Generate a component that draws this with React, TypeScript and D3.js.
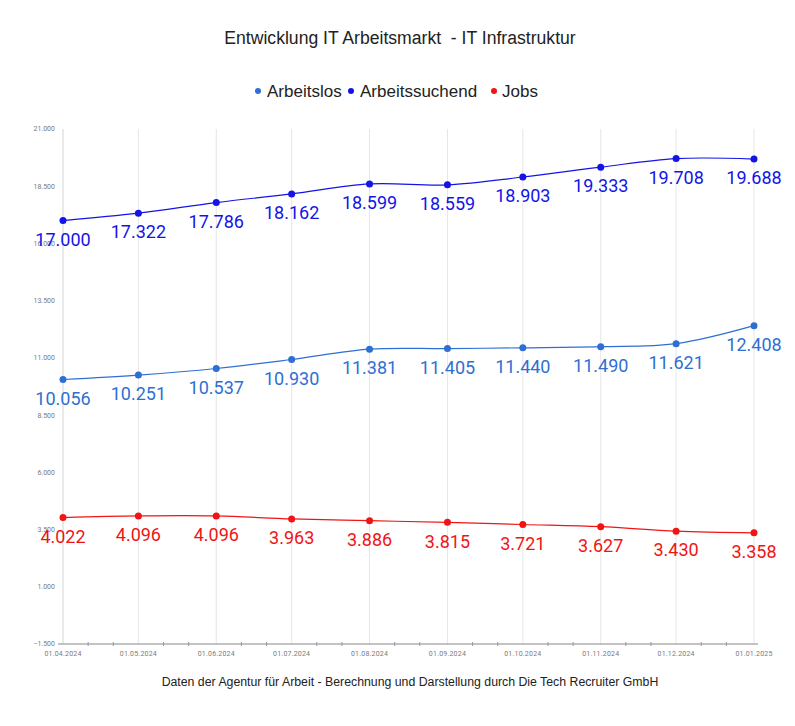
import React from "react";
import * as d3 from "d3";

const months = ["2024-04-01","2024-05-01","2024-06-01","2024-07-01","2024-08-01","2024-09-01","2024-10-01","2024-11-01","2024-12-01","2025-01-01"];
const arbeitslos = [10056, 10251, 10537, 10930, 11381, 11405, 11440, 11490, 11621, 12408];
const arbeitssuchend = [17000, 17322, 17786, 18162, 18599, 18559, 18903, 19333, 19708, 19688];
const jobs = [4022, 4096, 4096, 3963, 3886, 3815, 3721, 3627, 3430, 3358];
const yTicks = [-1500, 1000, 3500, 6000, 8500, 11000, 13500, 16000, 18500, 21000];
const seriesNames = ["Arbeitslos", "Arbeitssuchend", "Jobs"];
const seriesColors = ["#2f6fd2", "#1414e6", "#f01414"];
const title = "Entwicklung IT Arbeitsmarkt  - IT Infrastruktur";
const footer = "Daten der Agentur für Arbeit - Berechnung und Darstellung durch Die Tech Recruiter GmbH";

const W = 795, H = 726;

export default function App() {
  const parse = d3.timeParse("%Y-%m-%d");
  const dates = months.map((m) => parse(m) as Date);
  const x = d3.scaleTime().domain([dates[0], dates[dates.length - 1]]).range([63, 754]);
  const y = d3.scaleLinear().domain([-1500, 21000]).range([644, 129]);
  const de = d3.formatLocale({ decimal: ",", thousands: ".", grouping: [3], currency: ["", "€"] });
  const fmt = de.format(",d");
  const dfmt = d3.timeFormat("%d.%m.%Y");

  // minor ticks at 11th and 21st of each month
  const minor: Date[] = [];
  d3.timeMonth.range(dates[0], dates[dates.length - 1]).forEach((m) => {
    [11, 21].forEach((d) => minor.push(new Date(m.getFullYear(), m.getMonth(), d)));
  });

  const allSeries = [arbeitslos, arbeitssuchend, jobs];
  const line = d3.line<number>()
    .x((_, i) => x(dates[i]))
    .y((v) => y(v))
    .curve(d3.curveCatmullRom.alpha(0.5));

  const axisY = y(-1500);
  const legendItems = [
    { dot: 258, text: 267 },
    { dot: 351, text: 360 },
    { dot: 494, text: 502 },
  ];

  return (
    <svg width={W} height={H} style={{ position: "absolute", left: 0, top: 0, background: "#fff" }}>
      <rect x={0} y={0} width={W} height={H} fill="#fff" />
      <text x={400} y={44} textAnchor="middle" fontFamily="Liberation Sans, Arial, sans-serif" fontSize={17.6} fill="#222" style={{ whiteSpace: "pre" }}>{title}</text>
      {seriesNames.map((n, i) => (
        <g key={n}>
          <circle cx={legendItems[i].dot} cy={91} r={3} fill={seriesColors[i]} />
          <text x={legendItems[i].text} y={97} fontFamily="Liberation Sans, Arial, sans-serif" fontSize={17} fill="#222">{n}</text>
        </g>
      ))}
      {dates.map((d, i) => (
        <line key={i} x1={x(d)} x2={x(d)} y1={129} y2={axisY} stroke={i === 0 ? "#d4d4d4" : "#e6e6e6"} strokeWidth={1} />
      ))}
      {yTicks.map((t) => (
        <text key={t} x={55} y={y(t)} dy="0.35em" textAnchor="end" fontFamily="Roboto, sans-serif" fontSize={7} fill="#7a7a7a">{fmt(t)}</text>
      ))}
      <line x1={58} x2={758} y1={axisY} y2={axisY} stroke="#888" strokeWidth={1} />
      {minor.map((d, i) => (
        <line key={i} x1={x(d)} x2={x(d)} y1={axisY - 2} y2={axisY + 2} stroke="#999" strokeWidth={1} />
      ))}
      {dates.map((d, i) => (
        <text key={i} x={x(d)} y={654} dy="0.35em" textAnchor="middle" fontFamily="Roboto, sans-serif" fontSize={7} fill="#7a7a7a" letterSpacing={0.2}>{dfmt(d)}</text>
      ))}
      {allSeries.map((s, si) => (
        <g key={si}>
          <path d={line(s) || ""} fill="none" stroke={seriesColors[si]} strokeWidth={1.2} />
          {s.map((v, i) => (
            <circle key={i} cx={x(dates[i])} cy={y(v)} r={3.5} fill={seriesColors[si]} />
          ))}
        </g>
      ))}
      {allSeries.map((s, si) => (
        <g key={"l" + si}>
          {s.map((v, i) => (
            <text key={i} x={x(dates[i])} y={y(v) + 19} dy="0.35em" textAnchor="middle" fontFamily="Roboto, sans-serif" fontSize={18} fill={seriesColors[si]}>{fmt(v)}</text>
          ))}
        </g>
      ))}
      <text x={410} y={686} textAnchor="middle" fontFamily="Liberation Sans, Arial, sans-serif" fontSize={12.3} fill="#222">{footer}</text>
    </svg>
  );
}
